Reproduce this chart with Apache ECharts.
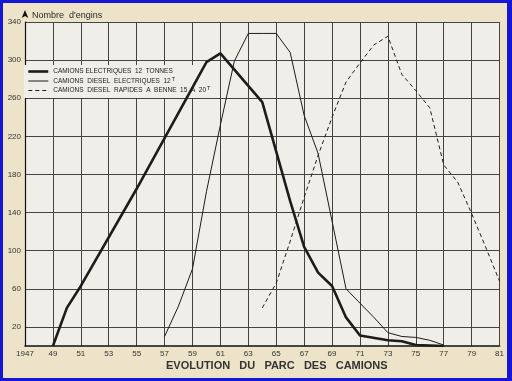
<!DOCTYPE html>
<html>
<head>
<meta charset="utf-8">
<script src="https://cdn.jsdelivr.net/npm/echarts@6/dist/echarts.min.js"></script>
<style>
html,body{margin:0;padding:0;background:#1616d6;width:512px;height:381px;overflow:hidden;}
#c{position:absolute;left:3px;top:3px;width:504px;height:375px;background:#ece3c9;}
</style>
</head>
<body>
<div id="c"></div>
<script>
// Data
const electricYears  = [1949, 1950, 1951, 1955, 1960, 1961, 1964, 1966, 1967, 1968, 1969, 1970, 1971, 1973, 1974, 1975, 1977];
const electricValues = [0,    40,   63,   165,  298,  307,  256,  152,  104,  77,   63,   30,   11,   6,    5,    1,    0];

const dieselElecYears  = [1957, 1958, 1959, 1960, 1961, 1962, 1963, 1964, 1965, 1966, 1967, 1968, 1970, 1971, 1972, 1973, 1974, 1975, 1976, 1977];
const dieselElecValues = [10,   42,   81,   162,  232,  299,  328,  328,  328,  308,  242,  202,  60,   45,   30,   14,   10,   9,    6,    1];

const dieselRapYears  = [1964, 1965, 1966, 1967, 1968, 1969, 1970, 1971, 1972, 1973, 1974, 1975, 1976, 1977, 1978, 1979, 1980, 1981];
const dieselRapValues = [40,   66,   110,  156,  200,  240,  277,  297,  316,  325,  285,  268,  250,  190,  172,  139,  104,  68];

const xTicks = [1947, 1949, 1951, 1953, 1955, 1957, 1959, 1961, 1963, 1965, 1967, 1969, 1971, 1973, 1975, 1977, 1979, 1981];
const yTicks = [20, 60, 100, 140, 180, 220, 260, 300, 340];

const seriesNames = [
  'CAMIONS ELECTRIQUES  12  TONNES',
  'CAMIONS  DIESEL  ELECTRIQUES  12',
  'CAMIONS  DIESEL  RAPIDES  A  BENNE  15  A  20'
];
const superT = [false, true, true];

function pairs(xs, ys) { return xs.map((x, i) => [x, ys[i]]); }

const ink = '#1c1c1c';
const lineStyles = [
  { color: ink, width: 2.6 },
  { color: ink, width: 1 },
  { color: ink, width: 1, type: [4, 3] }
];
const chart = echarts.init(document.getElementById('c'));
chart.setOption({
  animation: false,
  textStyle: { fontFamily: 'Liberation Sans, DejaVu Sans, sans-serif' },
  grid: { left: 22, right: 4, top: 19, bottom: 32, show: true, backgroundColor: '#efeee9', borderWidth: 0 },
  title: [
    { text: "Nombre  d'engins", left: 29, top: 8, padding: 0, textStyle: { fontSize: 9, fontWeight: 'normal', color: '#2a2a2a' } },
    { text: 'EVOLUTION   DU   PARC   DES   CAMIONS', left: 163, top: 357, padding: 0, textStyle: { fontSize: 11, fontWeight: 'bold', color: '#333' } }
  ],
  legend: {
    orient: 'vertical', left: 21, top: 62,
    itemWidth: 20, itemHeight: 8, itemGap: 1,
    padding: [3, 6, 4, 3],
    backgroundColor: '#efeee9',
    itemStyle: { opacity: 0 },
    formatter: function (name) {
      const i = seriesNames.indexOf(name);
      return superT[i] ? '{a|' + name + '}{s|T}' : '{a|' + name + '}';
    },
    textStyle: {
      rich: {
        a: { fontSize: 6.5, color: '#222' },
        s: { fontSize: 5.5, color: '#222', verticalAlign: 'top', padding: [0, 0, 4, 1] }
      }
    },
    data: seriesNames.map((n, i) => ({ name: n, lineStyle: lineStyles[i], itemStyle: { opacity: 0 } }))
  },
  xAxis: {
    type: 'value', min: 1947, max: 1981,
    axisLine: { onZero: false, lineStyle: { color: '#111', width: 1.5 } },
    axisTick: { show: false, customValues: xTicks },
    axisLabel: {
      customValues: xTicks, fontSize: 8, color: '#333', margin: 4,
      formatter: v => v === 1947 ? '1947' : String(v % 100)
    },
    splitLine: { show: true, lineStyle: { color: '#444', width: 1 } }
  },
  yAxis: {
    type: 'value', min: 0, max: 340,
    axisLine: { show: true, symbol: ['none', 'arrow'], symbolSize: [5, 8], symbolOffset: [0, 12], lineStyle: { color: '#111', width: 1.2 } },
    axisTick: { show: false, customValues: yTicks },
    axisLabel: { customValues: yTicks, fontSize: 8, color: '#333', margin: 4 },
    splitLine: { show: true, lineStyle: { color: '#444', width: 1 } }
  },
  series: [
    { name: seriesNames[0], type: 'line', data: pairs(electricYears, electricValues), showSymbol: false, symbol: 'none',
      lineStyle: lineStyles[0], itemStyle: { color: ink }, z: 5 },
    { name: seriesNames[1], type: 'line', data: pairs(dieselElecYears, dieselElecValues), showSymbol: false, symbol: 'none',
      lineStyle: lineStyles[1], itemStyle: { color: ink }, z: 4 },
    { name: seriesNames[2], type: 'line', data: pairs(dieselRapYears, dieselRapValues), showSymbol: false, symbol: 'none',
      lineStyle: lineStyles[2], itemStyle: { color: ink }, z: 4 }
  ]
});
</script>
</body>
</html>
